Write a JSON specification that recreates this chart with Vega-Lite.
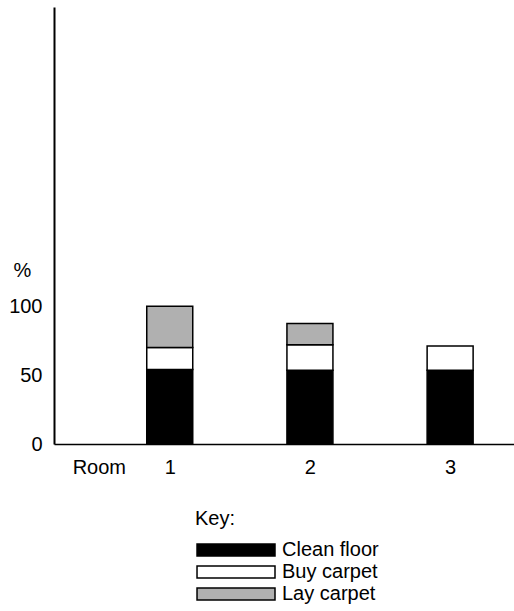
{
 "$schema": "https://vega.github.io/schema/vega-lite/v6.json",
 "width": 460, "height": 437,
 "autosize": {"type": "none"},
 "padding": {"left": 54, "top": 7, "right": 0, "bottom": 167},
 "background": "white",
 "config": {"view": {"stroke": null}, "font": "Liberation Sans"},
 "data": {"values": [
   {"room": 1, "step": 1, "task": "Clean floor", "pct": 54},
   {"room": 1, "step": 2, "task": "Buy carpet", "pct": 16},
   {"room": 1, "step": 3, "task": "Lay carpet", "pct": 30},
   {"room": 2, "step": 1, "task": "Clean floor", "pct": 53.5},
   {"room": 2, "step": 2, "task": "Buy carpet", "pct": 18.5},
   {"room": 2, "step": 3, "task": "Lay carpet", "pct": 15.5},
   {"room": 3, "step": 1, "task": "Clean floor", "pct": 53.5},
   {"room": 3, "step": 2, "task": "Buy carpet", "pct": 17.5}
 ]},
 "mark": {"type": "bar", "width": 46, "stroke": "black", "strokeWidth": 1.5},
 "encoding": {
   "x": {"field": "room", "type": "quantitative",
     "scale": {"domain": [0.21, 3.42], "nice": false, "zero": false},
     "axis": {"title": null, "values": [0.494, 1, 2, 3],
       "labelExpr": "datum.value < 0.9 ? 'Room' : format(datum.value, 'd')",
       "ticks": false, "grid": false, "domainColor": "black", "domainWidth": 1.5,
       "labelFontSize": 20, "labelColor": "black", "labelPadding": 13, "labelFlush": false}},
   "y": {"field": "pct", "type": "quantitative", "stack": "zero",
     "scale": {"domain": [0, 317], "nice": false},
     "axis": {"title": "%", "titleAngle": 0, "titleX": -32, "titleY": 263, "titleBaseline": "middle",
       "titleAlign": "center", "titleFontWeight": "normal", "titleFontSize": 20, "titleColor": "black",
       "values": [0, 50, 100], "ticks": false, "grid": false, "domainColor": "black", "domainWidth": 2,
       "labelFontSize": 20, "labelColor": "black", "labelPadding": 12, "labelFlush": false}},
   "order": {"field": "step", "type": "quantitative", "sort": "ascending"},
   "color": {"field": "task", "type": "nominal", "sort": ["Clean floor", "Buy carpet", "Lay carpet"],
     "scale": {"domain": ["Clean floor", "Buy carpet", "Lay carpet"], "range": ["black", "white", "#b0b0b0"]},
     "legend": {"title": "Key:", "orient": "none", "legendX": 141, "legendY": 502,
       "titleFontSize": 20, "titleFontWeight": "normal", "titleColor": "black",
       "labelFontSize": 20, "labelColor": "black",
       "symbolType": "M-1.14,-0.857h11.14v1.714h-11.14Z", "symbolSize": 196,
       "symbolStrokeColor": "black", "symbolStrokeWidth": 1.5, "symbolOpacity": 1,
       "rowPadding": 2, "labelOffset": 67, "titlePadding": 11}}
 }
}
